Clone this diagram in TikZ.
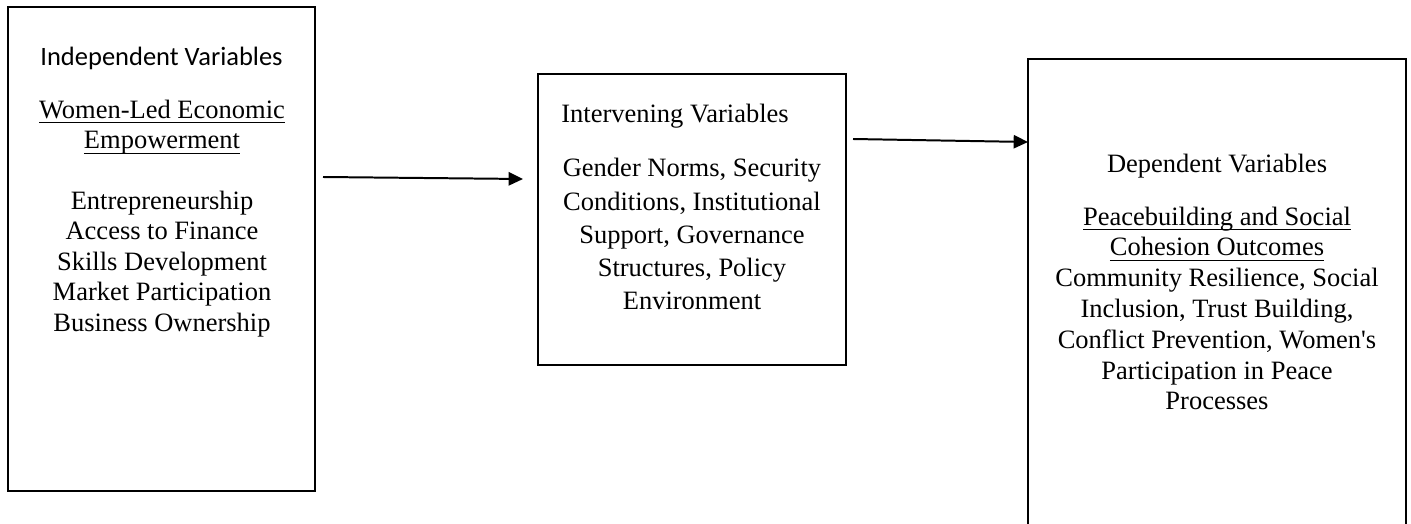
\documentclass[tikz,border=0pt]{standalone}
\usepackage{fontspec}
\setmainfont{Liberation Serif}
\newfontfamily\calibri{Carlito}
\usetikzlibrary{arrows.meta,fit}
\newsavebox\myulbox
\newcommand\myul[1]{\sbox\myulbox{#1}\usebox\myulbox\llap{\rule[-2.4pt]{\wd\myulbox}{0.5pt}}}
\tikzset{
  box/.style={draw=black, line width=0.9pt, inner sep=0pt},
  txt/.style={inner sep=0pt, align=center, anchor=base, font=\fontsize{12}{13.8}\selectfont},
  conn/.style={line width=0.9pt, -{Triangle[length=6.5pt,width=6pt]}}
}
\begin{document}
\begin{tikzpicture}[x=0.4528pt, y=-0.4528pt]
\useasboundingbox (0,0) rectangle (1411,524);
% boxes
\node[box, fit={(8,7) (315,491)}] (b1) {};
\node[box, fit={(538,74) (846,365)}] (b2) {};
\node[box, fit={(1028,59) (1406,620)}] (b3) {};
% box 1 text (base anchor = baseline of the last line)
\node[txt, font=\calibri\fontsize{12}{14}\selectfont] (h1) at (161.5,66) {Independent Variables};
\node[txt] (t1) at (162,331.4) {\myul{Women-Led Economic}\\\myul{Empowerment}\\[13.8pt]Entrepreneurship\\Access to Finance\\Skills Development\\Market Participation\\Business Ownership};
% box 2 text
\node[txt] (h2) at (675,123) {Intervening Variables};
\node[txt, font=\fontsize{12}{15.06}\selectfont] (t2) at (692,310) {Gender Norms, Security\\Conditions, Institutional\\Support, Governance\\Structures, Policy\\Environment};
% box 3 text
\node[txt] (h3) at (1217,173) {Dependent Variables};
\node[txt, font=\fontsize{12}{13.96}\selectfont] (t3) at (1217,410) {\myul{Peacebuilding and Social}\\\myul{Cohesion Outcomes}\\Community Resilience, Social\\Inclusion, Trust Building,\\Conflict Prevention, Women\textquotesingle s\\Participation in Peace\\Processes};
% connectors
\coordinate (a1s) at (323,177);
\coordinate (a1e) at (523,179);
\coordinate (a2s) at (853,139);
\coordinate (a2e) at (1028,142);
\draw[conn] (a1s) -- (a1e);
\draw[conn] (a2s) -- (a2e);
\end{tikzpicture}
\end{document}
